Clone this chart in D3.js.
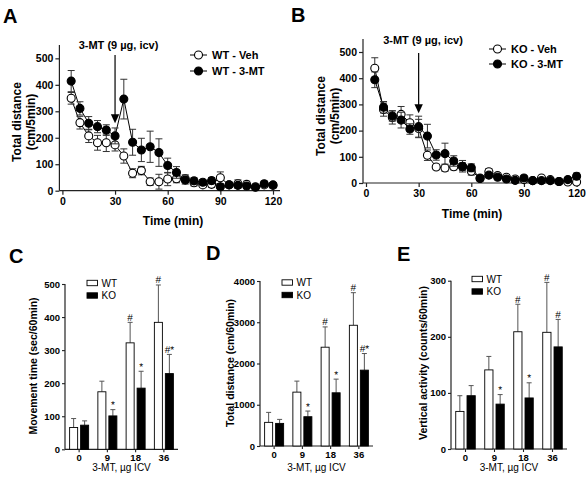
<!DOCTYPE html>
<html><head><meta charset="utf-8">
<script src="https://cdn.jsdelivr.net/npm/d3@7"></script>
<style>
body{margin:0;background:#fff}
svg{display:block}
text{font-family:Arial,"Liberation Sans",sans-serif}
</style>
</head><body>
<svg id="chart" width="588" height="478"></svg>
<script>
// ---------- Data: time course (A, B) ----------
const times = [5,10,15,20,25,30,35,40,45,50,55,60,65,70,75,80,85,90,95,100,105,110,115,120];
const wtVeh    = [349,257,207,181,181,173,131,66,76,34,34,44,45,45,30,22,24,49,22,26,24,15,22,20];
const wtVehErr = [22,24,25,28,33,23,27,17,16,14,28,25,15,15,12,10,12,22,10,15,12,8,10,10];
const wt3mt    = [414,311,255,242,229,207,346,183,154,166,144,95,69,40,37,32,38,15,22,20,18,13,26,22];
const wt3mtErr = [40,25,25,23,20,30,75,49,44,59,52,28,22,15,12,10,12,8,10,10,10,7,10,9];
const koVeh    = [438,280,250,262,230,208,106,61,57,62,62,45,19,43,28,22,15,13,9,19,13,6,4,4];
const koVehErr = [40,25,25,30,30,35,20,10,12,12,15,15,8,12,10,10,8,8,6,8,8,6,5,5];
const ko3mt    = [394,289,256,240,206,215,179,107,112,84,64,58,17,30,22,15,10,19,9,9,9,6,13,26];
const ko3mtErr = [30,22,20,30,20,40,45,20,40,20,22,15,8,10,8,8,7,7,6,6,6,5,7,12];
const timeTicks = [0,30,60,90,120];
const distTicks = [0,100,200,300,400,500];

// ---------- Data: dose response (C, D, E) ----------
const doses = ["0","9","18","36"];
const genotypes = ["WT","KO"];
const moveWT = [66,174,322,384],   moveWTErr = [27,32,62,113];
const moveKO = [73,101,185,229],   moveKOErr = [13,19,51,58];
const moveMarksWT = ["","","#","#"], moveMarksKO = ["","*","*","#*"];
const moveTicks = [0,100,200,300,400,500];
const distWT = [573,1306,2395,2927], distWTErr = [242,267,492,790];
const distKO = [548,710,1290,1839],  distKOErr = [97,137,331,403];
const distMarksWT = ["","","#","#"], distMarksKO = ["","*","*","#*"];
const dist60Ticks = [0,1000,2000,3000,4000];
const vertWT = [67,141,209,208], vertWTErr = [28,24,49,89];
const vertKO = [95,80,91,182],   vertKOErr = [18,17,27,49];
const vertMarksWT = ["","","#","#"], vertMarksKO = ["","*","*","#"];
const vertTicks = [0,100,200,300];

const svg = d3.select("#chart");
const AX = "#222";

function panelLetter(t, x, y){
  svg.append("text").attr("x",x).attr("y",y).attr("font-size",20).attr("font-weight","bold").text(t);
}

function linePanel(c){
  const g = svg.append("g");
  const x = d3.scaleLinear().domain([0,c.xMax]).range([c.x0, c.x0 + c.xMax*c.ppm]);
  const y = d3.scaleLinear().domain([0,550]).range([c.y0, c.y0 - 550*c.ppv]);
  const axX = c.x0 - 3;
  g.append("line").attr("x1",axX).attr("x2",axX).attr("y1",y(0)).attr("y2",y(550)).attr("stroke",AX).attr("stroke-width",1.2);
  g.append("line").attr("x1",axX).attr("x2",x(c.xMax)).attr("y1",y(0)).attr("y2",y(0)).attr("stroke",AX).attr("stroke-width",1.2);
  const ya = d3.axisLeft(y).tickValues(distTicks).tickSize(4).tickPadding(2).tickSizeOuter(0);
  const yg = g.append("g").attr("transform",`translate(${axX},0)`).call(ya);
  yg.select(".domain").remove();
  const xa = d3.axisBottom(x).tickValues(timeTicks).tickSize(4).tickPadding(3).tickSizeOuter(0);
  const xg = g.append("g").attr("transform",`translate(0,${y(0)})`).call(xa);
  xg.select(".domain").remove();
  [yg,xg].forEach(s=>{
    s.selectAll("text").attr("font-size",10.5).attr("font-weight","bold").attr("fill","#000").attr("font-family","Arial");
    s.selectAll("line").attr("stroke",AX).attr("stroke-width",1.2);
  });
  // series
  c.series.forEach(s=>{
    const pts = times.map((t,i)=>({t, v:s.vals[i], e:s.errs[i]}));
    g.append("path").datum(pts)
      .attr("d", d3.line().x(d=>x(d.t)).y(d=>y(d.v)))
      .attr("fill","none").attr("stroke","#000").attr("stroke-width",1);
    const eb = g.append("g").attr("stroke","#333").attr("stroke-width",1);
    pts.forEach(d=>{
      const lo = Math.max(0,d.v-d.e), hi = d.v+d.e;
      eb.append("line").attr("x1",x(d.t)).attr("x2",x(d.t)).attr("y1",y(lo)).attr("y2",y(hi));
      eb.append("line").attr("x1",x(d.t)-3.5).attr("x2",x(d.t)+3.5).attr("y1",y(hi)).attr("y2",y(hi));
      eb.append("line").attr("x1",x(d.t)-3.5).attr("x2",x(d.t)+3.5).attr("y1",y(lo)).attr("y2",y(lo));
    });
    g.append("g").selectAll("circle").data(pts).join("circle")
      .attr("cx",d=>x(d.t)).attr("cy",d=>y(d.v)).attr("r",4)
      .attr("fill",s.fill).attr("stroke","#000").attr("stroke-width",1.1);
  });
  // injection arrow
  const ax = x(30);
  const tip = y(c.arrowTip);
  g.append("line").attr("x1",ax).attr("x2",ax).attr("y1",c.arrowTop).attr("y2",tip-8).attr("stroke","#000").attr("stroke-width",1.2);
  g.append("path").attr("d",`M${ax-4.2},${tip-9}L${ax+4.2},${tip-9}L${ax},${tip}Z`).attr("fill","#000");
  g.append("text").attr("x",c.labX).attr("y",c.labY).attr("text-anchor","middle")
    .attr("font-size",11).attr("font-weight","bold").text("3-MT (9 µg, icv)");
  // legend
  c.series.forEach((s,i)=>{
    const ly = c.legY + i*c.legDy;
    g.append("line").attr("x1",c.legX).attr("x2",c.legX+17).attr("y1",ly).attr("y2",ly).attr("stroke","#000").attr("stroke-width",1);
    g.append("circle").attr("cx",c.legX+8.5).attr("cy",ly).attr("r",4).attr("fill",s.fill).attr("stroke","#000").attr("stroke-width",1.1);
    g.append("text").attr("x",c.legX+22).attr("y",ly).attr("dy","0.35em").attr("font-size",11).attr("font-weight","bold").text(s.name);
  });
  // titles
  const ty = g.append("g").attr("transform",`translate(${c.ytX},${c.ytY}) rotate(-90)`);
  ty.append("text").attr("text-anchor","middle").attr("y",0).attr("dy","0.35em").attr("font-size",12).attr("font-weight","bold").text("Total distance");
  ty.append("text").attr("text-anchor","middle").attr("y",13.5).attr("dy","0.35em").attr("font-size",12).attr("font-weight","bold").text("(cm/5min)");
  g.append("text").attr("x",c.xtX).attr("y",c.xtY).attr("text-anchor","middle").attr("font-size",12).attr("font-weight","bold").text("Time (min)");
}

linePanel({x0:62.4, y0:190.7, ppm:1.755, ppv:0.2647, xMax:124,
  series:[{name:"WT - Veh", vals:wtVeh, errs:wtVehErr, fill:"#fff"},
          {name:"WT - 3-MT", vals:wt3mt, errs:wt3mtErr, fill:"#000"}],
  arrowTip:255, arrowTop:55, labX:118.5, labY:49,
  legX:190, legY:55, legDy:16,
  ytX:17, ytY:122, xtX:173, xtY:224.5});
linePanel({x0:366, y0:183, ppm:1.755, ppv:0.262, xMax:122,
  series:[{name:"KO - Veh", vals:koVeh, errs:koVehErr, fill:"#fff"},
          {name:"KO - 3-MT", vals:ko3mt, errs:ko3mtErr, fill:"#000"}],
  arrowTip:266, arrowTop:53, labX:423, labY:44,
  legX:489, legY:49, legDy:15,
  ytX:321, ytY:116, xtX:472, xtY:218});

panelLetter("A",3,23);
panelLetter("B",291,22);
panelLetter("C",9,263);
panelLetter("D",206,260);
panelLetter("E",397,261);

function barPanel(c){
  const g = svg.append("g");
  const x0 = d3.scaleBand().domain(doses).range([c.xa, c.xb]).padding(0);
  const x1 = d3.scaleBand().domain(genotypes).range([0, x0.bandwidth()]).paddingInner(0.27).paddingOuter(0.42);
  const y = d3.scaleLinear().domain([0,c.yMax]).range([c.y0, c.yTop]);
  g.append("line").attr("x1",c.xa).attr("x2",c.xa).attr("y1",y(0)).attr("y2",y(c.yMax)).attr("stroke",AX).attr("stroke-width",1.2);
  g.append("line").attr("x1",c.xa).attr("x2",c.xb).attr("y1",y(0)).attr("y2",y(0)).attr("stroke",AX).attr("stroke-width",1.2);
  const yg = g.append("g").attr("transform",`translate(${c.xa},0)`)
    .call(d3.axisLeft(y).tickValues(c.ticks).tickFormat(d3.format("d")).tickSize(3).tickPadding(2).tickSizeOuter(0));
  yg.select(".domain").remove();
  const xg = g.append("g").attr("transform",`translate(0,${y(0)})`).call(d3.axisBottom(x0).tickSize(3).tickPadding(2).tickSizeOuter(0));
  xg.select(".domain").remove();
  [yg,xg].forEach(s=>{
    s.selectAll("text").attr("font-size",9.5).attr("font-weight","bold").attr("fill","#000").attr("font-family","Arial");
    s.selectAll("line").attr("stroke",AX).attr("stroke-width",1.1);
  });
  const sets = [
    {k:"WT", v:c.wt, e:c.wtErr, m:c.wtMarks, fill:"#fff"},
    {k:"KO", v:c.ko, e:c.koErr, m:c.koMarks, fill:"#000"}];
  sets.forEach(s=>{
    doses.forEach((d,i)=>{
      const bx = x0(d) + x1(s.k), bw = x1.bandwidth(), cx = bx + bw/2;
      const top = y(s.v[i]), cap = y(s.v[i]+s.e[i]);
      g.append("line").attr("x1",cx).attr("x2",cx).attr("y1",top).attr("y2",cap).attr("stroke","#555").attr("stroke-width",1);
      g.append("line").attr("x1",cx-2.5).attr("x2",cx+2.5).attr("y1",cap).attr("y2",cap).attr("stroke","#555").attr("stroke-width",1);
      g.append("rect").attr("x",bx).attr("y",top).attr("width",bw).attr("height",y(0)-top)
        .attr("fill",s.fill).attr("stroke","#000").attr("stroke-width",0.9);
      if (s.m[i]) g.append("text").attr("x",cx).attr("y",cap-1.5).attr("text-anchor","middle")
        .attr("font-size",10).attr("fill","#000").style("text-rendering","geometricPrecision").text(s.m[i]);
    });
  });
  // legend
  sets.forEach((s,i)=>{
    const ly = c.legY + i*12.5;
    g.append("rect").attr("x",c.legX).attr("y",ly-2.7).attr("width",10.5).attr("height",5.4)
      .attr("fill",s.fill).attr("stroke","#000").attr("stroke-width",0.9);
    g.append("text").attr("x",c.legX+14.5).attr("y",ly).attr("dy","0.35em").attr("font-size",10).text(s.k);
  });
  g.append("text").attr("transform",`translate(${c.ytX},${c.ytY}) rotate(-90)`).attr("text-anchor","middle")
    .attr("dy","0.35em").attr("font-size",10.5).attr("font-weight","bold").text(c.yTitle);
  g.append("text").attr("x",(c.xa+c.xb)/2).attr("y",471).attr("text-anchor","middle").attr("font-size",10).text("3-MT, µg ICV");
}

barPanel({xa:65, xb:178, y0:449.3, yTop:284, yMax:500, ticks:moveTicks,
  wt:moveWT, wtErr:moveWTErr, ko:moveKO, koErr:moveKOErr, wtMarks:moveMarksWT, koMarks:moveMarksKO,
  legX:87, legY:283, ytX:33, ytY:366, yTitle:"Movement time (sec/60min)"});
barPanel({xa:260, xb:373, y0:446, yTop:281, yMax:4000, ticks:dist60Ticks,
  wt:distWT, wtErr:distWTErr, ko:distKO, koErr:distKOErr, wtMarks:distMarksWT, koMarks:distMarksKO,
  legX:282, legY:282.5, ytX:230, ytY:363, yTitle:"Total distance (cm/60min)"});
barPanel({xa:451, xb:567, y0:449, yTop:280.7, yMax:300, ticks:vertTicks,
  wt:vertWT, wtErr:vertWTErr, ko:vertKO, koErr:vertKOErr, wtMarks:vertMarksWT, koMarks:vertMarksKO,
  legX:472, legY:279, ytX:423, ytY:363, yTitle:"Vertical activity (counts/60min)"});
</script>
</body></html>
